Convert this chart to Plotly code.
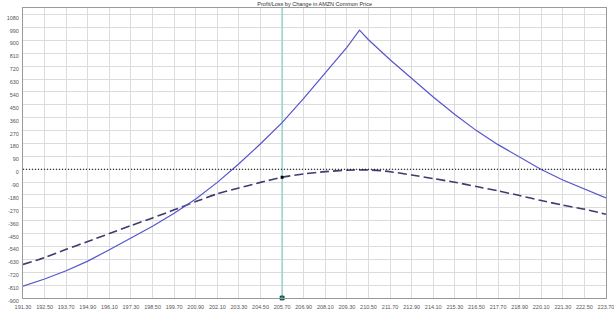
import plotly.graph_objects as go

# ---- data ----
price_ticks = [191.30, 192.50, 193.70, 194.90, 196.10, 197.30, 198.50, 199.70, 200.90,
               202.10, 203.30, 204.50, 205.70, 206.90, 208.10, 209.30, 210.50, 211.70,
               212.90, 214.10, 215.30, 216.50, 217.70, 218.90, 220.10, 221.30, 222.50, 223.70]

# P/L at expiration (solid) – includes the peak at the 210 strike
expiry_prices = [191.3, 192.5, 193.7, 194.9, 196.1, 197.3, 198.5, 199.7, 200.9,
                 202.1, 203.3, 204.5, 205.7, 206.9, 208.1, 209.3, 210.0, 210.5, 211.7,
                 212.9, 214.1, 215.3, 216.5, 217.7, 218.9, 220.1, 221.3, 222.5, 223.7]
expiry_pl = [-817, -767, -710, -642, -563, -480, -398, -308, -208,
             -92, 38, 178, 326, 495, 670, 852, 972, 905, 765,
             635, 505, 382, 270, 172, 83, -2, -75, -140, -200]

# Current P/L (dashed)
current_prices = price_ticks
current_pl = [-665, -617, -560, -505, -450, -394, -340, -284, -226,
              -172, -131, -92, -56, -33, -17, -7, -5, -17,
              -40, -65, -91, -121, -151, -184, -219, -251, -279, -315]

y_ticks = list(range(-900, 1081, 90))
y_range = [-900, 1127]
current_price = 205.70
title_text = "Profit/Loss by Change in AMZN Common Price"

FONT = "Liberation Sans Narrow, Arial Narrow, Liberation Sans, Arial, sans-serif"

fig = go.Figure()

# current price vertical line
fig.add_trace(go.Scatter(
    x=[current_price, current_price], y=y_range, mode="lines",
    line=dict(color="#92d1cb", width=1.4),
    hoverinfo="skip", showlegend=False))

fig.add_trace(go.Scatter(
    x=current_prices, y=current_pl, mode="lines",
    line=dict(color="#3c3c70", width=1.6, dash="9px,4px", shape="spline", smoothing=0.6),
    hoverinfo="skip", showlegend=False))

fig.add_trace(go.Scatter(
    x=expiry_prices, y=expiry_pl, mode="lines",
    line=dict(color="#5555cc", width=1.2),
    hoverinfo="skip", showlegend=False))

# marker on current P/L at current price
idx = current_prices.index(current_price)
fig.add_trace(go.Scatter(
    x=[current_price], y=[current_pl[idx]], mode="markers",
    marker=dict(color="black", size=3, symbol="square"),
    hoverinfo="skip", showlegend=False))
# marker at bottom of the price line
fig.add_trace(go.Scatter(
    x=[current_price], y=[y_ticks[0]], mode="markers",
    marker=dict(color="#1a9a8e", size=4, symbol="square",
                line=dict(color="black", width=0.6)),
    cliponaxis=False, hoverinfo="skip", showlegend=False))

# zero line (dotted)
fig.add_shape(type="line", xref="paper", x0=0, x1=1, yref="y", y0=0, y1=0,
              line=dict(color="black", width=1, dash="1px,2px"), layer="above")

fig.update_layout(
    width=614, height=312,
    margin=dict(l=23, r=8, t=8, b=14, autoexpand=False),
    paper_bgcolor="white", plot_bgcolor="white",
    title=dict(text=title_text, x=0.5125, xanchor="center", y=0.988, yanchor="middle",
               font=dict(family=FONT, size=5.5, color="#333333")),
    font=dict(family=FONT, size=5.5, color="#555555"),
)

fig.update_xaxes(
    range=[price_ticks[0], price_ticks[-1]],
    tickvals=price_ticks, ticktext=[f"{v:.2f}" for v in price_ticks],
    showgrid=True, gridcolor="#dcdcdc", gridwidth=1,
    showline=True, linecolor="#9a9a9a", linewidth=1, mirror=True,
    ticks="", zeroline=False, ticklabelstandoff=3, automargin=False,
    ticklabeloverflow="allow",
    tickfont=dict(family=FONT, size=5.5, color="#555555"))

fig.update_yaxes(
    range=y_range,
    tickvals=y_ticks, ticktext=[str(v) for v in y_ticks],
    showgrid=True, gridcolor="#dcdcdc", gridwidth=1,
    showline=True, linecolor="#9a9a9a", linewidth=1, mirror=True,
    ticks="", zeroline=False, ticklabelstandoff=2, ticklabelshift=3, automargin=False,
    ticklabeloverflow="allow",
    tickfont=dict(family=FONT, size=5.5, color="#555555"))

fig.write_html("out.html")
